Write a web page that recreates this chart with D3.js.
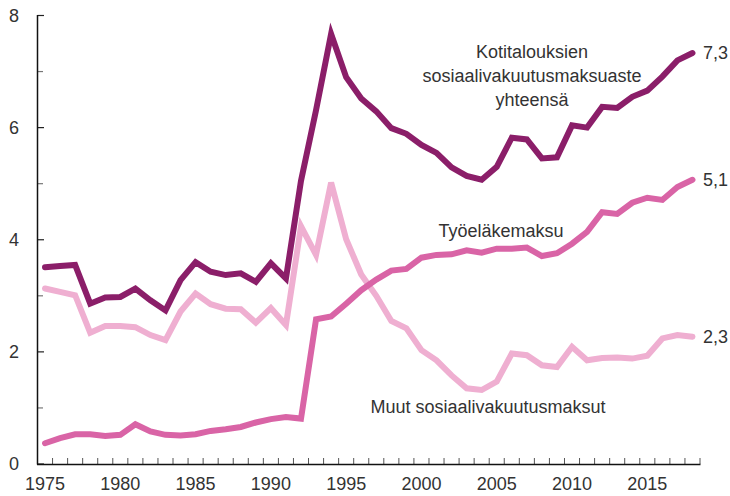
<!DOCTYPE html>
<html>
<head>
<meta charset="utf-8">
<script src="https://cdn.jsdelivr.net/npm/d3@7"></script>
<style>
  body { margin: 0; background: #fff; }
  text { font-family: "Liberation Sans", Arial, sans-serif; fill: #333; }
</style>
</head>
<body>
<script>
// data
var years = d3.range(1975, 2019);
var total = [3.51, 3.53, 3.55, 2.86, 2.97, 2.98, 3.13, 2.92, 2.74, 3.28, 3.60, 3.43, 3.37, 3.40, 3.25, 3.58, 3.31,
  5.05, 6.31, 7.67, 6.90, 6.52, 6.29, 5.99, 5.89, 5.69, 5.55, 5.29, 5.14, 5.07, 5.30, 5.82, 5.79, 5.45, 5.47,
  6.04, 6.00, 6.37, 6.35, 6.55, 6.66, 6.91, 7.20, 7.33];
var pension = [0.37, 0.46, 0.53, 0.53, 0.50, 0.52, 0.71, 0.58, 0.52, 0.51, 0.53, 0.59, 0.62, 0.66, 0.74, 0.80, 0.84,
  0.81, 2.58, 2.63, 2.86, 3.10, 3.29, 3.45, 3.48, 3.68, 3.73, 3.74, 3.81, 3.77, 3.84, 3.84, 3.86, 3.71, 3.76,
  3.93, 4.14, 4.49, 4.46, 4.66, 4.75, 4.71, 4.94, 5.07];
var other = [3.13, 3.07, 3.01, 2.34, 2.46, 2.46, 2.44, 2.30, 2.21, 2.72, 3.04, 2.85, 2.77, 2.76, 2.52, 2.78, 2.48,
  4.24, 3.73, 5.02, 4.01, 3.38, 3.00, 2.55, 2.42, 2.03, 1.85, 1.58, 1.35, 1.32, 1.47, 1.97, 1.94, 1.76, 1.73,
  2.09, 1.85, 1.89, 1.90, 1.88, 1.93, 2.24, 2.30, 2.27];
var yTicks = [0, 2, 4, 6, 8];
var xLabels = [1975, 1980, 1985, 1990, 1995, 2000, 2005, 2010, 2015];

var width = 730, height = 496;
var svg = d3.select("body").append("svg")
    .attr("width", width)
    .attr("height", height);

var x = d3.scaleBand().domain(years).range([37.5, 700]);
var y = d3.scaleLinear().domain([0, 8]).range([464, 15.5]);

var cx = function(yr) { return x(yr) + x.bandwidth() / 2; };

// x ticks at band edges
svg.selectAll(".xt")
    .data(years.slice(1).concat([2019]))
    .enter().append("line")
    .attr("x1", function(d) { return d == 2019 ? 700 : x(d); })
    .attr("x2", function(d) { return d == 2019 ? 700 : x(d); })
    .attr("y1", 464)
    .attr("y2", 458)
    .attr("stroke", "#555")
    .attr("stroke-width", 1);

// y ticks
svg.selectAll(".yt")
    .data(d3.range(0, 9))
    .enter().append("line")
    .attr("x1", 37.5)
    .attr("x2", function(d) { return d % 2 == 0 ? 44 : 43; })
    .attr("y1", function(d) { return y(d); })
    .attr("y2", function(d) { return y(d); })
    .attr("stroke", function(d) { return d % 2 == 0 ? "#222" : "#777"; })
    .attr("stroke-width", 1.2);

// axes lines
svg.append("line")
    .attr("x1", 37.5).attr("x2", 37.5)
    .attr("y1", 15).attr("y2", 464.5)
    .attr("stroke", "#111").attr("stroke-width", 1.5);
svg.append("line")
    .attr("x1", 37).attr("x2", 700.5)
    .attr("y1", 464.5).attr("y2", 464.5)
    .attr("stroke", "#111").attr("stroke-width", 1.5);

svg.selectAll(".yl")
    .data(yTicks)
    .enter().append("text")
    .attr("x", 14)
    .attr("y", function(d) { return y(d) + 6; })
    .attr("text-anchor", "middle")
    .style("font-size", "18px")
    .text(function(d) { return d; });

svg.selectAll(".xl")
    .data(xLabels)
    .enter().append("text")
    .attr("x", function(d) { return cx(d); })
    .attr("y", 490)
    .attr("text-anchor", "middle")
    .style("font-size", "18px")
    .text(function(d) { return d; });

var series = [
  {vals: other, color: "#efafd1"},
  {vals: pension, color: "#d964a6"},
  {vals: total, color: "#8b1e69"}
];

var line = d3.line()
    .x(function(d, i) { return cx(years[i]); })
    .y(function(d) { return y(d); });

series.forEach(function(s) {
  svg.append("path")
      .attr("d", line(s.vals))
      .attr("fill", "none")
      .attr("stroke", s.color)
      .attr("stroke-width", 6)
      .attr("stroke-linejoin", "miter")
      .attr("stroke-linecap", "round");
});

// end labels
var ends = [
  {v: total[total.length - 1], t: "7,3"},
  {v: pension[pension.length - 1], t: "5,1"},
  {v: other[other.length - 1], t: "2,3"}
];
svg.selectAll(".el")
    .data(ends)
    .enter().append("text")
    .attr("x", 703)
    .attr("y", function(d) { return y(d.v) + 6; })
    .style("font-size", "18px")
    .text(function(d) { return d.t; });

// annotations
var ann = svg.append("text")
    .attr("text-anchor", "middle")
    .style("font-size", "18px");
ann.append("tspan").attr("x", 532).attr("y", 58).text("Kotitalouksien");
ann.append("tspan").attr("x", 532).attr("y", 82).text("sosiaalivakuutusmaksuaste");
ann.append("tspan").attr("x", 532).attr("y", 106).text("yhteensä");

svg.append("text")
    .attr("x", 501).attr("y", 237)
    .attr("text-anchor", "middle")
    .style("font-size", "18px")
    .text("Työeläkemaksu");

svg.append("text")
    .attr("x", 488).attr("y", 413)
    .attr("text-anchor", "middle")
    .style("font-size", "18px")
    .text("Muut sosiaalivakuutusmaksut");
</script>
</body>
</html>
